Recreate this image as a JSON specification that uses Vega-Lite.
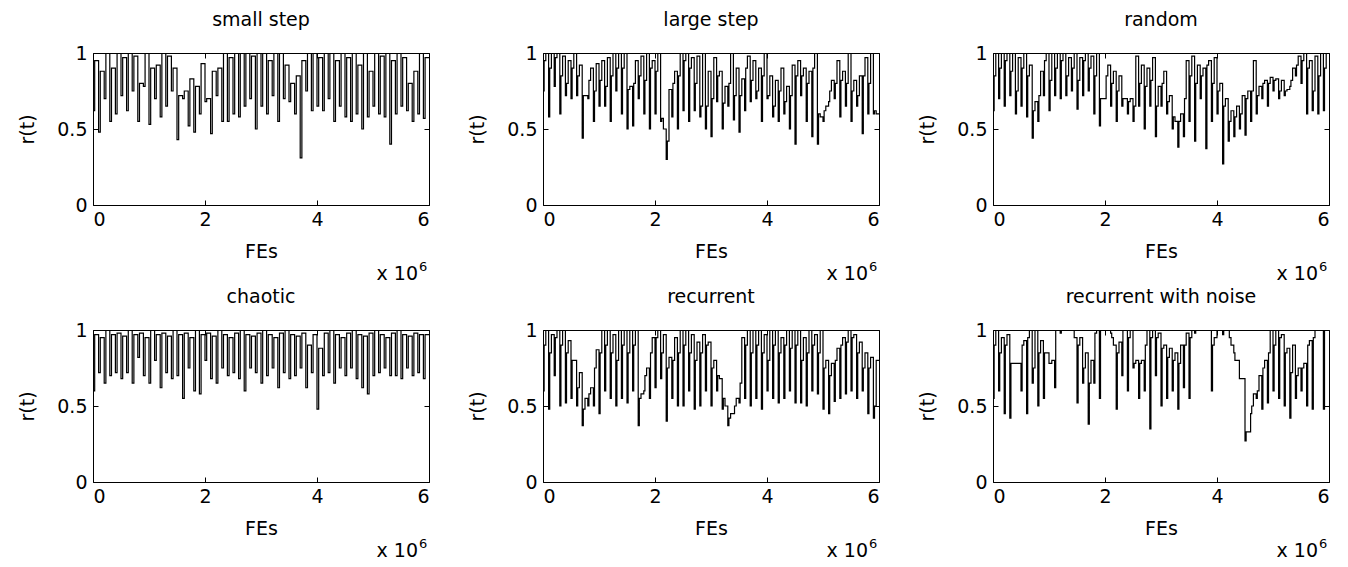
{
"$schema": "https://vega.github.io/schema/vega-lite/v6.json",
"background": "white",
"padding": {"left": 18, "top": 10, "right": 10, "bottom": 0},
"config": {
  "font": "DejaVu Sans",
  "view": {"stroke": "black", "strokeWidth": 1},
  "title": {"font": "DejaVu Sans", "fontSize": 19, "fontWeight": "normal", "color": "black", "offset": 14},
  "axis": {"grid": false, "domain": false, "tickColor": "black", "tickSize": -5, "labelFont": "DejaVu Sans", "labelFontSize": 19, "labelColor": "black", "titleFont": "DejaVu Sans", "titleFontSize": 19, "titleFontWeight": "normal", "titleColor": "black"}
},
"datasets": {
"s1": [{"x":0,"y":0.62},{"x":0.03,"y":0.95},{"x":0.1,"y":0.48},{"x":0.13,"y":0.88},{"x":0.2,"y":0.7},{"x":0.23,"y":1},{"x":0.3,"y":0.55},{"x":0.33,"y":0.9},{"x":0.4,"y":0.6},{"x":0.43,"y":1},{"x":0.5,"y":0.72},{"x":0.53,"y":0.97},{"x":0.6,"y":0.62},{"x":0.63,"y":1},{"x":0.7,"y":0.75},{"x":0.73,"y":0.98},{"x":0.8,"y":0.55},{"x":0.83,"y":0.8},{"x":0.9,"y":0.78},{"x":0.93,"y":1},{"x":1.0,"y":0.53},{"x":1.03,"y":0.9},{"x":1.1,"y":0.7},{"x":1.13,"y":0.92},{"x":1.2,"y":0.58},{"x":1.23,"y":1},{"x":1.3,"y":0.65},{"x":1.33,"y":0.98},{"x":1.4,"y":0.75},{"x":1.43,"y":0.9},{"x":1.5,"y":0.43},{"x":1.53,"y":0.72},{"x":1.6,"y":0.7},{"x":1.63,"y":0.75},{"x":1.7,"y":0.52},{"x":1.73,"y":0.83},{"x":1.8,"y":0.48},{"x":1.83,"y":0.78},{"x":1.9,"y":0.6},{"x":1.93,"y":0.93},{"x":2.0,"y":0.68},{"x":2.03,"y":0.7},{"x":2.1,"y":0.47},{"x":2.13,"y":0.88},{"x":2.2,"y":0.72},{"x":2.23,"y":0.9},{"x":2.3,"y":0.55},{"x":2.33,"y":1},{"x":2.4,"y":0.55},{"x":2.43,"y":0.97},{"x":2.5,"y":0.6},{"x":2.53,"y":1},{"x":2.6,"y":0.58},{"x":2.63,"y":1},{"x":2.7,"y":0.65},{"x":2.73,"y":1},{"x":2.8,"y":0.7},{"x":2.83,"y":0.98},{"x":2.9,"y":0.5},{"x":2.93,"y":1},{"x":3.0,"y":0.65},{"x":3.03,"y":1},{"x":3.1,"y":0.6},{"x":3.13,"y":0.95},{"x":3.2,"y":0.72},{"x":3.23,"y":1},{"x":3.3,"y":0.55},{"x":3.33,"y":1},{"x":3.4,"y":0.7},{"x":3.43,"y":0.92},{"x":3.5,"y":0.68},{"x":3.53,"y":0.8},{"x":3.6,"y":0.6},{"x":3.63,"y":0.85},{"x":3.7,"y":0.31},{"x":3.73,"y":0.95},{"x":3.8,"y":0.75},{"x":3.83,"y":1},{"x":3.9,"y":0.62},{"x":3.93,"y":1},{"x":4.0,"y":0.65},{"x":4.03,"y":0.97},{"x":4.1,"y":0.62},{"x":4.13,"y":1},{"x":4.2,"y":0.7},{"x":4.23,"y":1},{"x":4.3,"y":0.55},{"x":4.33,"y":0.95},{"x":4.4,"y":0.65},{"x":4.43,"y":1},{"x":4.5,"y":0.58},{"x":4.53,"y":0.97},{"x":4.6,"y":0.55},{"x":4.63,"y":1},{"x":4.7,"y":0.6},{"x":4.73,"y":0.92},{"x":4.8,"y":0.5},{"x":4.83,"y":1},{"x":4.9,"y":0.58},{"x":4.93,"y":0.88},{"x":5.0,"y":0.65},{"x":5.03,"y":1},{"x":5.1,"y":0.6},{"x":5.13,"y":0.98},{"x":5.2,"y":0.58},{"x":5.23,"y":1},{"x":5.3,"y":0.4},{"x":5.33,"y":0.95},{"x":5.4,"y":0.6},{"x":5.43,"y":1},{"x":5.5,"y":0.65},{"x":5.53,"y":0.97},{"x":5.6,"y":0.62},{"x":5.63,"y":0.8},{"x":5.7,"y":0.55},{"x":5.73,"y":0.88},{"x":5.8,"y":0.6},{"x":5.83,"y":1},{"x":5.9,"y":0.57},{"x":5.93,"y":0.97},{"x":6,"y":0.97}],
"s2": [{"x":0,"y":0.75},{"x":0.02,"y":0.95},{"x":0.05,"y":1},{"x":0.1,"y":0.58},{"x":0.12,"y":0.9},{"x":0.15,"y":1},{"x":0.2,"y":0.78},{"x":0.22,"y":0.97},{"x":0.25,"y":1},{"x":0.3,"y":0.6},{"x":0.32,"y":0.85},{"x":0.35,"y":0.98},{"x":0.4,"y":0.72},{"x":0.42,"y":0.8},{"x":0.45,"y":0.95},{"x":0.5,"y":0.7},{"x":0.52,"y":0.9},{"x":0.55,"y":1},{"x":0.6,"y":0.72},{"x":0.62,"y":0.85},{"x":0.65,"y":0.92},{"x":0.7,"y":0.44},{"x":0.72,"y":0.72},{"x":0.75,"y":0.72},{"x":0.8,"y":0.7},{"x":0.82,"y":0.82},{"x":0.85,"y":0.9},{"x":0.9,"y":0.55},{"x":0.92,"y":0.75},{"x":0.95,"y":0.93},{"x":1.0,"y":0.65},{"x":1.02,"y":0.82},{"x":1.05,"y":0.95},{"x":1.1,"y":0.65},{"x":1.12,"y":0.78},{"x":1.15,"y":0.97},{"x":1.2,"y":0.55},{"x":1.22,"y":0.85},{"x":1.25,"y":1},{"x":1.3,"y":0.75},{"x":1.32,"y":0.9},{"x":1.35,"y":1},{"x":1.4,"y":0.6},{"x":1.42,"y":0.9},{"x":1.45,"y":1},{"x":1.5,"y":0.5},{"x":1.52,"y":0.76},{"x":1.55,"y":0.78},{"x":1.6,"y":0.52},{"x":1.62,"y":0.8},{"x":1.65,"y":0.95},{"x":1.7,"y":0.7},{"x":1.72,"y":0.85},{"x":1.75,"y":0.98},{"x":1.8,"y":0.6},{"x":1.82,"y":0.82},{"x":1.85,"y":1},{"x":1.9,"y":0.5},{"x":1.92,"y":0.9},{"x":1.95,"y":0.95},{"x":2.0,"y":0.6},{"x":2.02,"y":0.88},{"x":2.05,"y":1},{"x":2.1,"y":0.55},{"x":2.12,"y":0.57},{"x":2.15,"y":0.5},{"x":2.2,"y":0.3},{"x":2.22,"y":0.42},{"x":2.25,"y":0.76},{"x":2.3,"y":0.58},{"x":2.32,"y":0.8},{"x":2.35,"y":0.88},{"x":2.4,"y":0.5},{"x":2.42,"y":0.85},{"x":2.45,"y":1},{"x":2.5,"y":0.62},{"x":2.52,"y":0.95},{"x":2.55,"y":1},{"x":2.6,"y":0.55},{"x":2.62,"y":0.9},{"x":2.65,"y":0.97},{"x":2.7,"y":0.62},{"x":2.72,"y":0.8},{"x":2.75,"y":0.98},{"x":2.8,"y":0.58},{"x":2.82,"y":0.65},{"x":2.85,"y":1},{"x":2.9,"y":0.5},{"x":2.92,"y":0.65},{"x":2.95,"y":0.88},{"x":3.0,"y":0.45},{"x":3.02,"y":0.7},{"x":3.05,"y":0.97},{"x":3.1,"y":0.68},{"x":3.12,"y":0.85},{"x":3.15,"y":0.88},{"x":3.2,"y":0.5},{"x":3.22,"y":0.67},{"x":3.25,"y":0.78},{"x":3.3,"y":0.65},{"x":3.32,"y":0.8},{"x":3.35,"y":1},{"x":3.4,"y":0.56},{"x":3.42,"y":0.72},{"x":3.45,"y":0.9},{"x":3.5,"y":0.48},{"x":3.52,"y":0.72},{"x":3.55,"y":0.83},{"x":3.6,"y":0.62},{"x":3.62,"y":0.9},{"x":3.65,"y":0.98},{"x":3.7,"y":0.68},{"x":3.72,"y":0.82},{"x":3.75,"y":0.95},{"x":3.8,"y":0.7},{"x":3.82,"y":0.75},{"x":3.85,"y":0.9},{"x":3.9,"y":0.55},{"x":3.92,"y":0.85},{"x":3.95,"y":1},{"x":4.0,"y":0.7},{"x":4.02,"y":0.72},{"x":4.05,"y":0.85},{"x":4.1,"y":0.58},{"x":4.12,"y":0.65},{"x":4.15,"y":0.82},{"x":4.2,"y":0.55},{"x":4.22,"y":0.75},{"x":4.25,"y":0.9},{"x":4.3,"y":0.6},{"x":4.32,"y":0.68},{"x":4.35,"y":0.78},{"x":4.4,"y":0.5},{"x":4.42,"y":0.72},{"x":4.45,"y":0.92},{"x":4.5,"y":0.4},{"x":4.52,"y":0.85},{"x":4.55,"y":0.95},{"x":4.6,"y":0.72},{"x":4.62,"y":0.85},{"x":4.65,"y":0.9},{"x":4.7,"y":0.55},{"x":4.72,"y":0.8},{"x":4.75,"y":0.88},{"x":4.8,"y":0.45},{"x":4.82,"y":0.9},{"x":4.85,"y":1},{"x":4.9,"y":0.4},{"x":4.92,"y":0.6},{"x":4.95,"y":0.58},{"x":5.0,"y":0.55},{"x":5.02,"y":0.62},{"x":5.05,"y":0.65},{"x":5.1,"y":0.68},{"x":5.12,"y":0.75},{"x":5.15,"y":0.82},{"x":5.2,"y":0.7},{"x":5.22,"y":0.8},{"x":5.25,"y":0.95},{"x":5.3,"y":0.58},{"x":5.32,"y":0.82},{"x":5.35,"y":0.88},{"x":5.4,"y":0.65},{"x":5.42,"y":0.8},{"x":5.45,"y":1},{"x":5.5,"y":0.55},{"x":5.52,"y":0.75},{"x":5.55,"y":0.82},{"x":5.6,"y":0.65},{"x":5.62,"y":0.72},{"x":5.65,"y":0.85},{"x":5.7,"y":0.47},{"x":5.72,"y":0.85},{"x":5.75,"y":0.97},{"x":5.8,"y":0.6},{"x":5.82,"y":0.8},{"x":5.85,"y":1},{"x":5.9,"y":0.6},{"x":5.92,"y":0.62},{"x":5.95,"y":0.6},{"x":6,"y":0.6}],
"s3": [{"x":0,"y":0.62},{"x":0.02,"y":0.85},{"x":0.05,"y":1},{"x":0.1,"y":0.7},{"x":0.12,"y":0.9},{"x":0.15,"y":1},{"x":0.2,"y":0.65},{"x":0.22,"y":0.95},{"x":0.25,"y":1},{"x":0.3,"y":0.72},{"x":0.32,"y":0.88},{"x":0.35,"y":1},{"x":0.4,"y":0.6},{"x":0.42,"y":0.75},{"x":0.45,"y":0.97},{"x":0.5,"y":0.65},{"x":0.52,"y":0.9},{"x":0.55,"y":1},{"x":0.6,"y":0.58},{"x":0.62,"y":0.85},{"x":0.65,"y":0.92},{"x":0.7,"y":0.44},{"x":0.72,"y":0.62},{"x":0.75,"y":0.68},{"x":0.8,"y":0.55},{"x":0.82,"y":0.72},{"x":0.85,"y":0.88},{"x":0.9,"y":0.72},{"x":0.92,"y":0.95},{"x":0.95,"y":1},{"x":1.0,"y":0.62},{"x":1.02,"y":0.82},{"x":1.05,"y":1},{"x":1.1,"y":0.72},{"x":1.12,"y":0.9},{"x":1.15,"y":1},{"x":1.2,"y":0.7},{"x":1.22,"y":0.95},{"x":1.25,"y":1},{"x":1.3,"y":0.72},{"x":1.32,"y":0.85},{"x":1.35,"y":0.97},{"x":1.4,"y":0.75},{"x":1.42,"y":0.9},{"x":1.45,"y":1},{"x":1.5,"y":0.63},{"x":1.52,"y":0.82},{"x":1.55,"y":0.97},{"x":1.6,"y":0.72},{"x":1.62,"y":0.95},{"x":1.65,"y":1},{"x":1.7,"y":0.75},{"x":1.72,"y":0.9},{"x":1.75,"y":0.98},{"x":1.8,"y":0.6},{"x":1.82,"y":0.85},{"x":1.85,"y":1},{"x":1.9,"y":0.52},{"x":1.92,"y":0.7},{"x":1.95,"y":0.7},{"x":2.0,"y":0.7},{"x":2.02,"y":0.85},{"x":2.05,"y":0.92},{"x":2.1,"y":0.65},{"x":2.12,"y":0.8},{"x":2.15,"y":0.88},{"x":2.2,"y":0.55},{"x":2.22,"y":0.75},{"x":2.25,"y":0.85},{"x":2.3,"y":0.65},{"x":2.32,"y":0.7},{"x":2.35,"y":0.7},{"x":2.4,"y":0.6},{"x":2.42,"y":0.68},{"x":2.45,"y":0.7},{"x":2.5,"y":0.55},{"x":2.52,"y":0.65},{"x":2.55,"y":0.98},{"x":2.6,"y":0.65},{"x":2.62,"y":0.8},{"x":2.65,"y":0.92},{"x":2.7,"y":0.5},{"x":2.72,"y":0.78},{"x":2.75,"y":0.9},{"x":2.8,"y":0.65},{"x":2.82,"y":0.82},{"x":2.85,"y":0.97},{"x":2.9,"y":0.45},{"x":2.92,"y":0.65},{"x":2.95,"y":0.78},{"x":3.0,"y":0.65},{"x":3.02,"y":0.8},{"x":3.05,"y":0.88},{"x":3.1,"y":0.6},{"x":3.12,"y":0.68},{"x":3.15,"y":0.72},{"x":3.2,"y":0.5},{"x":3.22,"y":0.58},{"x":3.25,"y":0.55},{"x":3.3,"y":0.38},{"x":3.32,"y":0.55},{"x":3.35,"y":0.6},{"x":3.4,"y":0.45},{"x":3.42,"y":0.7},{"x":3.45,"y":0.95},{"x":3.5,"y":0.55},{"x":3.52,"y":0.85},{"x":3.55,"y":0.98},{"x":3.6,"y":0.42},{"x":3.62,"y":0.8},{"x":3.65,"y":0.92},{"x":3.7,"y":0.7},{"x":3.72,"y":0.85},{"x":3.75,"y":0.9},{"x":3.8,"y":0.37},{"x":3.82,"y":0.92},{"x":3.85,"y":0.95},{"x":3.9,"y":0.55},{"x":3.92,"y":0.8},{"x":3.95,"y":0.97},{"x":4.0,"y":0.6},{"x":4.02,"y":0.75},{"x":4.05,"y":0.8},{"x":4.1,"y":0.27},{"x":4.12,"y":0.65},{"x":4.15,"y":0.7},{"x":4.2,"y":0.42},{"x":4.22,"y":0.55},{"x":4.25,"y":0.62},{"x":4.3,"y":0.45},{"x":4.32,"y":0.58},{"x":4.35,"y":0.65},{"x":4.4,"y":0.5},{"x":4.42,"y":0.6},{"x":4.45,"y":0.72},{"x":4.5,"y":0.46},{"x":4.52,"y":0.7},{"x":4.55,"y":0.75},{"x":4.6,"y":0.55},{"x":4.62,"y":0.75},{"x":4.65,"y":0.95},{"x":4.7,"y":0.6},{"x":4.72,"y":0.72},{"x":4.75,"y":0.78},{"x":4.8,"y":0.7},{"x":4.82,"y":0.8},{"x":4.85,"y":0.82},{"x":4.9,"y":0.65},{"x":4.92,"y":0.8},{"x":4.95,"y":0.84},{"x":5.0,"y":0.75},{"x":5.02,"y":0.82},{"x":5.05,"y":0.83},{"x":5.1,"y":0.7},{"x":5.12,"y":0.75},{"x":5.15,"y":0.82},{"x":5.2,"y":0.72},{"x":5.22,"y":0.75},{"x":5.25,"y":0.76},{"x":5.3,"y":0.78},{"x":5.32,"y":0.82},{"x":5.35,"y":0.9},{"x":5.4,"y":0.85},{"x":5.42,"y":0.92},{"x":5.45,"y":0.98},{"x":5.5,"y":0.8},{"x":5.52,"y":0.95},{"x":5.55,"y":1},{"x":5.6,"y":0.6},{"x":5.62,"y":0.9},{"x":5.65,"y":0.95},{"x":5.7,"y":0.62},{"x":5.72,"y":0.75},{"x":5.75,"y":0.98},{"x":5.8,"y":0.6},{"x":5.82,"y":0.85},{"x":5.85,"y":1},{"x":5.9,"y":0.62},{"x":5.92,"y":0.9},{"x":5.95,"y":1},{"x":6,"y":1}],
"s4": [{"x":0,"y":0.6},{"x":0.03,"y":0.97},{"x":0.1,"y":0.72},{"x":0.13,"y":0.95},{"x":0.2,"y":0.65},{"x":0.23,"y":1},{"x":0.3,"y":0.7},{"x":0.33,"y":0.97},{"x":0.4,"y":0.72},{"x":0.43,"y":0.98},{"x":0.5,"y":0.68},{"x":0.53,"y":0.96},{"x":0.6,"y":0.72},{"x":0.63,"y":1},{"x":0.7,"y":0.65},{"x":0.73,"y":0.97},{"x":0.8,"y":0.82},{"x":0.83,"y":0.98},{"x":0.9,"y":0.7},{"x":0.93,"y":0.95},{"x":1.0,"y":0.65},{"x":1.03,"y":1},{"x":1.1,"y":0.8},{"x":1.13,"y":0.97},{"x":1.2,"y":0.62},{"x":1.23,"y":0.98},{"x":1.3,"y":0.72},{"x":1.33,"y":0.96},{"x":1.4,"y":0.68},{"x":1.43,"y":1},{"x":1.5,"y":0.7},{"x":1.53,"y":0.97},{"x":1.6,"y":0.55},{"x":1.63,"y":0.98},{"x":1.7,"y":0.75},{"x":1.73,"y":0.95},{"x":1.8,"y":0.6},{"x":1.83,"y":1},{"x":1.9,"y":0.58},{"x":1.93,"y":0.97},{"x":2.0,"y":0.8},{"x":2.03,"y":0.98},{"x":2.1,"y":0.68},{"x":2.13,"y":0.96},{"x":2.2,"y":0.65},{"x":2.23,"y":1},{"x":2.3,"y":0.75},{"x":2.33,"y":0.97},{"x":2.4,"y":0.7},{"x":2.43,"y":0.95},{"x":2.5,"y":0.72},{"x":2.53,"y":0.98},{"x":2.6,"y":0.68},{"x":2.63,"y":1},{"x":2.7,"y":0.6},{"x":2.73,"y":0.97},{"x":2.8,"y":0.75},{"x":2.83,"y":0.96},{"x":2.9,"y":0.72},{"x":2.93,"y":0.98},{"x":3.0,"y":0.65},{"x":3.03,"y":1},{"x":3.1,"y":0.7},{"x":3.13,"y":0.97},{"x":3.2,"y":0.75},{"x":3.23,"y":0.95},{"x":3.3,"y":0.62},{"x":3.33,"y":0.98},{"x":3.4,"y":0.72},{"x":3.43,"y":1},{"x":3.5,"y":0.68},{"x":3.53,"y":0.97},{"x":3.6,"y":0.7},{"x":3.63,"y":0.96},{"x":3.7,"y":0.75},{"x":3.73,"y":0.98},{"x":3.8,"y":0.62},{"x":3.83,"y":0.9},{"x":3.9,"y":0.72},{"x":3.93,"y":0.97},{"x":4.0,"y":0.48},{"x":4.03,"y":0.88},{"x":4.1,"y":0.7},{"x":4.13,"y":0.98},{"x":4.2,"y":0.72},{"x":4.23,"y":1},{"x":4.3,"y":0.65},{"x":4.33,"y":0.97},{"x":4.4,"y":0.75},{"x":4.43,"y":0.95},{"x":4.5,"y":0.7},{"x":4.53,"y":0.98},{"x":4.6,"y":0.75},{"x":4.63,"y":1},{"x":4.7,"y":0.68},{"x":4.73,"y":0.97},{"x":4.8,"y":0.62},{"x":4.83,"y":0.96},{"x":4.9,"y":0.58},{"x":4.93,"y":0.98},{"x":5.0,"y":0.7},{"x":5.03,"y":1},{"x":5.1,"y":0.72},{"x":5.13,"y":0.97},{"x":5.2,"y":0.75},{"x":5.23,"y":0.95},{"x":5.3,"y":0.7},{"x":5.33,"y":0.98},{"x":5.4,"y":0.7},{"x":5.43,"y":1},{"x":5.5,"y":0.68},{"x":5.53,"y":0.97},{"x":5.6,"y":0.75},{"x":5.63,"y":0.96},{"x":5.7,"y":0.7},{"x":5.73,"y":0.98},{"x":5.8,"y":0.72},{"x":5.83,"y":0.97},{"x":5.9,"y":0.68},{"x":5.93,"y":0.97},{"x":6,"y":0.97}],
"s5": [{"x":0,"y":0.6},{"x":0.02,"y":0.9},{"x":0.05,"y":1},{"x":0.1,"y":0.48},{"x":0.12,"y":0.85},{"x":0.15,"y":0.97},{"x":0.2,"y":0.7},{"x":0.22,"y":0.95},{"x":0.25,"y":1},{"x":0.3,"y":0.5},{"x":0.32,"y":0.9},{"x":0.35,"y":1},{"x":0.4,"y":0.52},{"x":0.42,"y":0.85},{"x":0.45,"y":0.93},{"x":0.5,"y":0.55},{"x":0.52,"y":0.8},{"x":0.55,"y":0.8},{"x":0.6,"y":0.5},{"x":0.62,"y":0.62},{"x":0.65,"y":0.72},{"x":0.7,"y":0.37},{"x":0.72,"y":0.48},{"x":0.75,"y":0.55},{"x":0.8,"y":0.5},{"x":0.82,"y":0.58},{"x":0.85,"y":0.62},{"x":0.9,"y":0.5},{"x":0.92,"y":0.75},{"x":0.95,"y":0.87},{"x":1.0,"y":0.45},{"x":1.02,"y":0.85},{"x":1.05,"y":1},{"x":1.1,"y":0.6},{"x":1.12,"y":0.9},{"x":1.15,"y":1},{"x":1.2,"y":0.55},{"x":1.22,"y":0.85},{"x":1.25,"y":0.97},{"x":1.3,"y":0.5},{"x":1.32,"y":0.8},{"x":1.35,"y":1},{"x":1.4,"y":0.55},{"x":1.42,"y":0.9},{"x":1.45,"y":1},{"x":1.5,"y":0.52},{"x":1.52,"y":0.85},{"x":1.55,"y":1},{"x":1.6,"y":0.6},{"x":1.62,"y":0.9},{"x":1.65,"y":1},{"x":1.7,"y":0.37},{"x":1.72,"y":0.55},{"x":1.75,"y":0.58},{"x":1.8,"y":0.6},{"x":1.82,"y":0.7},{"x":1.85,"y":0.75},{"x":1.9,"y":0.55},{"x":1.92,"y":0.85},{"x":1.95,"y":0.95},{"x":2.0,"y":0.62},{"x":2.02,"y":0.95},{"x":2.05,"y":1},{"x":2.1,"y":0.68},{"x":2.12,"y":0.85},{"x":2.15,"y":0.97},{"x":2.2,"y":0.4},{"x":2.22,"y":0.75},{"x":2.25,"y":0.82},{"x":2.3,"y":0.55},{"x":2.32,"y":0.8},{"x":2.35,"y":0.95},{"x":2.4,"y":0.5},{"x":2.42,"y":0.85},{"x":2.45,"y":1},{"x":2.5,"y":0.5},{"x":2.52,"y":0.9},{"x":2.55,"y":1},{"x":2.6,"y":0.6},{"x":2.62,"y":0.85},{"x":2.65,"y":0.97},{"x":2.7,"y":0.48},{"x":2.72,"y":0.8},{"x":2.75,"y":0.92},{"x":2.8,"y":0.5},{"x":2.82,"y":0.85},{"x":2.85,"y":0.97},{"x":2.9,"y":0.6},{"x":2.92,"y":0.9},{"x":2.95,"y":0.92},{"x":3.0,"y":0.5},{"x":3.02,"y":0.75},{"x":3.05,"y":0.8},{"x":3.1,"y":0.6},{"x":3.12,"y":0.7},{"x":3.15,"y":0.68},{"x":3.2,"y":0.48},{"x":3.22,"y":0.55},{"x":3.25,"y":0.5},{"x":3.3,"y":0.37},{"x":3.32,"y":0.42},{"x":3.35,"y":0.45},{"x":3.4,"y":0.45},{"x":3.42,"y":0.5},{"x":3.45,"y":0.55},{"x":3.5,"y":0.52},{"x":3.52,"y":0.65},{"x":3.55,"y":0.95},{"x":3.6,"y":0.55},{"x":3.62,"y":0.9},{"x":3.65,"y":1},{"x":3.7,"y":0.5},{"x":3.72,"y":0.85},{"x":3.75,"y":1},{"x":3.8,"y":0.55},{"x":3.82,"y":0.9},{"x":3.85,"y":1},{"x":3.9,"y":0.48},{"x":3.92,"y":0.85},{"x":3.95,"y":0.97},{"x":4.0,"y":0.6},{"x":4.02,"y":0.8},{"x":4.05,"y":1},{"x":4.1,"y":0.55},{"x":4.12,"y":0.9},{"x":4.15,"y":1},{"x":4.2,"y":0.52},{"x":4.22,"y":0.85},{"x":4.25,"y":0.95},{"x":4.3,"y":0.55},{"x":4.32,"y":0.9},{"x":4.35,"y":1},{"x":4.4,"y":0.6},{"x":4.42,"y":0.88},{"x":4.45,"y":1},{"x":4.5,"y":0.52},{"x":4.52,"y":0.9},{"x":4.55,"y":1},{"x":4.6,"y":0.52},{"x":4.62,"y":0.8},{"x":4.65,"y":0.95},{"x":4.7,"y":0.5},{"x":4.72,"y":0.85},{"x":4.75,"y":1},{"x":4.8,"y":0.6},{"x":4.82,"y":0.9},{"x":4.85,"y":0.97},{"x":4.9,"y":0.58},{"x":4.92,"y":0.85},{"x":4.95,"y":1},{"x":5.0,"y":0.48},{"x":5.02,"y":0.75},{"x":5.05,"y":0.8},{"x":5.1,"y":0.45},{"x":5.12,"y":0.7},{"x":5.15,"y":0.78},{"x":5.2,"y":0.53},{"x":5.22,"y":0.8},{"x":5.25,"y":0.88},{"x":5.3,"y":0.55},{"x":5.32,"y":0.9},{"x":5.35,"y":0.95},{"x":5.4,"y":0.58},{"x":5.42,"y":0.92},{"x":5.45,"y":1},{"x":5.5,"y":0.6},{"x":5.52,"y":0.95},{"x":5.55,"y":0.97},{"x":5.6,"y":0.55},{"x":5.62,"y":0.85},{"x":5.65,"y":0.92},{"x":5.7,"y":0.6},{"x":5.72,"y":0.75},{"x":5.75,"y":0.85},{"x":5.8,"y":0.45},{"x":5.82,"y":0.75},{"x":5.85,"y":0.82},{"x":5.9,"y":0.42},{"x":5.92,"y":0.5},{"x":5.95,"y":0.8},{"x":6,"y":0.8}],
"s6": [{"x":0,"y":0.55},{"x":0.02,"y":0.9},{"x":0.05,"y":1},{"x":0.1,"y":0.6},{"x":0.12,"y":0.85},{"x":0.15,"y":0.95},{"x":0.2,"y":0.45},{"x":0.22,"y":0.9},{"x":0.25,"y":0.97},{"x":0.3,"y":0.42},{"x":0.32,"y":0.78},{"x":0.35,"y":0.78},{"x":0.4,"y":0.78},{"x":0.42,"y":0.78},{"x":0.45,"y":0.78},{"x":0.5,"y":0.6},{"x":0.52,"y":0.9},{"x":0.55,"y":0.93},{"x":0.6,"y":0.45},{"x":0.62,"y":0.95},{"x":0.65,"y":1},{"x":0.7,"y":0.65},{"x":0.72,"y":0.75},{"x":0.75,"y":1},{"x":0.8,"y":0.5},{"x":0.82,"y":0.85},{"x":0.85,"y":0.93},{"x":0.9,"y":0.55},{"x":0.92,"y":0.85},{"x":0.95,"y":0.85},{"x":1.0,"y":0.78},{"x":1.02,"y":0.78},{"x":1.05,"y":0.8},{"x":1.1,"y":0.62},{"x":1.12,"y":1},{"x":1.15,"y":1},{"x":1.2,"y":0.98},{"x":1.22,"y":1},{"x":1.25,"y":1},{"x":1.4,"y":1},{"x":1.42,"y":1},{"x":1.45,"y":0.95},{"x":1.5,"y":0.52},{"x":1.52,"y":0.9},{"x":1.55,"y":0.95},{"x":1.6,"y":0.65},{"x":1.62,"y":0.75},{"x":1.65,"y":0.85},{"x":1.7,"y":0.38},{"x":1.72,"y":0.65},{"x":1.75,"y":0.8},{"x":1.8,"y":0.65},{"x":1.82,"y":0.98},{"x":1.85,"y":1},{"x":1.9,"y":0.55},{"x":1.92,"y":1},{"x":1.95,"y":1},{"x":2.1,"y":0.98},{"x":2.12,"y":0.95},{"x":2.15,"y":0.9},{"x":2.2,"y":0.48},{"x":2.22,"y":0.85},{"x":2.25,"y":0.92},{"x":2.3,"y":0.7},{"x":2.32,"y":1},{"x":2.35,"y":1},{"x":2.4,"y":0.6},{"x":2.42,"y":0.95},{"x":2.45,"y":1},{"x":2.5,"y":0.75},{"x":2.52,"y":0.78},{"x":2.55,"y":0.8},{"x":2.6,"y":0.55},{"x":2.62,"y":0.78},{"x":2.65,"y":0.8},{"x":2.7,"y":0.6},{"x":2.72,"y":0.9},{"x":2.75,"y":1},{"x":2.8,"y":0.35},{"x":2.82,"y":0.95},{"x":2.85,"y":1},{"x":2.9,"y":0.7},{"x":2.92,"y":0.95},{"x":2.95,"y":0.98},{"x":3.0,"y":0.5},{"x":3.02,"y":0.88},{"x":3.05,"y":0.9},{"x":3.1,"y":0.55},{"x":3.12,"y":0.82},{"x":3.15,"y":0.88},{"x":3.2,"y":0.6},{"x":3.22,"y":0.8},{"x":3.25,"y":0.85},{"x":3.3,"y":0.48},{"x":3.32,"y":0.78},{"x":3.35,"y":0.9},{"x":3.4,"y":0.62},{"x":3.42,"y":0.9},{"x":3.45,"y":0.98},{"x":3.5,"y":0.55},{"x":3.52,"y":0.95},{"x":3.55,"y":1},{"x":3.6,"y":0.98},{"x":3.62,"y":1},{"x":3.65,"y":1},{"x":3.9,"y":0.6},{"x":3.92,"y":0.9},{"x":3.95,"y":0.95},{"x":4.0,"y":1},{"x":4.02,"y":1},{"x":4.1,"y":0.97},{"x":4.12,"y":1},{"x":4.2,"y":1},{"x":4.22,"y":0.95},{"x":4.25,"y":0.9},{"x":4.3,"y":0.85},{"x":4.32,"y":0.8},{"x":4.35,"y":0.8},{"x":4.4,"y":0.68},{"x":4.42,"y":0.68},{"x":4.45,"y":0.68},{"x":4.5,"y":0.27},{"x":4.52,"y":0.33},{"x":4.55,"y":0.33},{"x":4.6,"y":0.45},{"x":4.62,"y":0.5},{"x":4.65,"y":0.58},{"x":4.7,"y":0.55},{"x":4.72,"y":0.6},{"x":4.75,"y":0.7},{"x":4.8,"y":0.48},{"x":4.82,"y":0.75},{"x":4.85,"y":0.8},{"x":4.9,"y":0.52},{"x":4.92,"y":0.85},{"x":4.95,"y":1},{"x":5.0,"y":0.6},{"x":5.02,"y":0.9},{"x":5.05,"y":1},{"x":5.1,"y":0.55},{"x":5.12,"y":0.95},{"x":5.15,"y":0.97},{"x":5.2,"y":0.5},{"x":5.22,"y":0.85},{"x":5.25,"y":0.88},{"x":5.3,"y":0.42},{"x":5.32,"y":0.72},{"x":5.35,"y":0.9},{"x":5.4,"y":0.55},{"x":5.42,"y":0.7},{"x":5.45,"y":0.75},{"x":5.5,"y":0.6},{"x":5.52,"y":0.75},{"x":5.55,"y":0.78},{"x":5.6,"y":0.5},{"x":5.62,"y":0.9},{"x":5.65,"y":0.93},{"x":5.7,"y":0.48},{"x":5.72,"y":0.95},{"x":5.75,"y":1},{"x":5.9,"y":0.48},{"x":5.92,"y":1},{"x":5.95,"y":1},{"x":6,"y":1}]
},
"columns": 3,
"spacing": {"column": 114, "row": 125},
"bounds": "flush",
"concat": [
{"title": "small step", "width": 336, "height": 152, "layer": [
 {"data": {"name": "s1"}, "mark": {"type": "line", "interpolate": "step-after", "color": "black", "strokeWidth": 1.2, "clip": true},
  "encoding": {"x": {"field": "x", "type": "quantitative", "scale": {"domain": [0, 6], "nice": false}, "axis": {"values": [0, 2, 4, 6], "title": "FEs", "labelPadding": 10, "titlePadding": 13}},
   "y": {"field": "y", "type": "quantitative", "scale": {"domain": [0, 1], "nice": false}, "axis": {"values": [0, 0.5, 1], "format": "~g", "title": "r(t)", "labelPadding": 11, "titlePadding": 19}}}},
 {"data": {"values": [{}]}, "mark": {"type": "text", "text": "x 10", "align": "right", "baseline": "alphabetic", "dx": -11, "dy": 75, "fontSize": 19, "font": "DejaVu Sans"},
  "encoding": {"x": {"datum": 6, "type": "quantitative", "axis": {"orient": "top", "values": [0, 2, 4, 6], "labels": false, "title": null}},
   "y": {"datum": 0, "type": "quantitative", "axis": {"orient": "right", "values": [0, 0.5, 1], "labels": false, "title": null}}}},
 {"data": {"values": [{}]}, "mark": {"type": "text", "text": "6", "align": "left", "baseline": "alphabetic", "dx": -10, "dy": 66, "fontSize": 13, "font": "DejaVu Sans"},
  "encoding": {"x": {"datum": 6, "type": "quantitative", "axis": null}, "y": {"datum": 0, "type": "quantitative", "axis": null}}}
 ], "resolve": {"axis": {"x": "independent", "y": "independent"}}},
{"title": "large step", "width": 336, "height": 152, "layer": [
 {"data": {"name": "s2"}, "mark": {"type": "line", "interpolate": "step-after", "color": "black", "strokeWidth": 1.2, "clip": true},
  "encoding": {"x": {"field": "x", "type": "quantitative", "scale": {"domain": [0, 6], "nice": false}, "axis": {"values": [0, 2, 4, 6], "title": "FEs", "labelPadding": 10, "titlePadding": 13}},
   "y": {"field": "y", "type": "quantitative", "scale": {"domain": [0, 1], "nice": false}, "axis": {"values": [0, 0.5, 1], "format": "~g", "title": "r(t)", "labelPadding": 11, "titlePadding": 19}}}},
 {"data": {"values": [{}]}, "mark": {"type": "text", "text": "x 10", "align": "right", "baseline": "alphabetic", "dx": -11, "dy": 75, "fontSize": 19, "font": "DejaVu Sans"},
  "encoding": {"x": {"datum": 6, "type": "quantitative", "axis": {"orient": "top", "values": [0, 2, 4, 6], "labels": false, "title": null}},
   "y": {"datum": 0, "type": "quantitative", "axis": {"orient": "right", "values": [0, 0.5, 1], "labels": false, "title": null}}}},
 {"data": {"values": [{}]}, "mark": {"type": "text", "text": "6", "align": "left", "baseline": "alphabetic", "dx": -10, "dy": 66, "fontSize": 13, "font": "DejaVu Sans"},
  "encoding": {"x": {"datum": 6, "type": "quantitative", "axis": null}, "y": {"datum": 0, "type": "quantitative", "axis": null}}}
 ], "resolve": {"axis": {"x": "independent", "y": "independent"}}},
{"title": "random", "width": 336, "height": 152, "layer": [
 {"data": {"name": "s3"}, "mark": {"type": "line", "interpolate": "step-after", "color": "black", "strokeWidth": 1.2, "clip": true},
  "encoding": {"x": {"field": "x", "type": "quantitative", "scale": {"domain": [0, 6], "nice": false}, "axis": {"values": [0, 2, 4, 6], "title": "FEs", "labelPadding": 10, "titlePadding": 13}},
   "y": {"field": "y", "type": "quantitative", "scale": {"domain": [0, 1], "nice": false}, "axis": {"values": [0, 0.5, 1], "format": "~g", "title": "r(t)", "labelPadding": 11, "titlePadding": 19}}}},
 {"data": {"values": [{}]}, "mark": {"type": "text", "text": "x 10", "align": "right", "baseline": "alphabetic", "dx": -11, "dy": 75, "fontSize": 19, "font": "DejaVu Sans"},
  "encoding": {"x": {"datum": 6, "type": "quantitative", "axis": {"orient": "top", "values": [0, 2, 4, 6], "labels": false, "title": null}},
   "y": {"datum": 0, "type": "quantitative", "axis": {"orient": "right", "values": [0, 0.5, 1], "labels": false, "title": null}}}},
 {"data": {"values": [{}]}, "mark": {"type": "text", "text": "6", "align": "left", "baseline": "alphabetic", "dx": -10, "dy": 66, "fontSize": 13, "font": "DejaVu Sans"},
  "encoding": {"x": {"datum": 6, "type": "quantitative", "axis": null}, "y": {"datum": 0, "type": "quantitative", "axis": null}}}
 ], "resolve": {"axis": {"x": "independent", "y": "independent"}}},
{"title": "chaotic", "width": 336, "height": 152, "layer": [
 {"data": {"name": "s4"}, "mark": {"type": "line", "interpolate": "step-after", "color": "black", "strokeWidth": 1.2, "clip": true},
  "encoding": {"x": {"field": "x", "type": "quantitative", "scale": {"domain": [0, 6], "nice": false}, "axis": {"values": [0, 2, 4, 6], "title": "FEs", "labelPadding": 10, "titlePadding": 13}},
   "y": {"field": "y", "type": "quantitative", "scale": {"domain": [0, 1], "nice": false}, "axis": {"values": [0, 0.5, 1], "format": "~g", "title": "r(t)", "labelPadding": 11, "titlePadding": 19}}}},
 {"data": {"values": [{}]}, "mark": {"type": "text", "text": "x 10", "align": "right", "baseline": "alphabetic", "dx": -11, "dy": 75, "fontSize": 19, "font": "DejaVu Sans"},
  "encoding": {"x": {"datum": 6, "type": "quantitative", "axis": {"orient": "top", "values": [0, 2, 4, 6], "labels": false, "title": null}},
   "y": {"datum": 0, "type": "quantitative", "axis": {"orient": "right", "values": [0, 0.5, 1], "labels": false, "title": null}}}},
 {"data": {"values": [{}]}, "mark": {"type": "text", "text": "6", "align": "left", "baseline": "alphabetic", "dx": -10, "dy": 66, "fontSize": 13, "font": "DejaVu Sans"},
  "encoding": {"x": {"datum": 6, "type": "quantitative", "axis": null}, "y": {"datum": 0, "type": "quantitative", "axis": null}}}
 ], "resolve": {"axis": {"x": "independent", "y": "independent"}}},
{"title": "recurrent", "width": 336, "height": 152, "layer": [
 {"data": {"name": "s5"}, "mark": {"type": "line", "interpolate": "step-after", "color": "black", "strokeWidth": 1.2, "clip": true},
  "encoding": {"x": {"field": "x", "type": "quantitative", "scale": {"domain": [0, 6], "nice": false}, "axis": {"values": [0, 2, 4, 6], "title": "FEs", "labelPadding": 10, "titlePadding": 13}},
   "y": {"field": "y", "type": "quantitative", "scale": {"domain": [0, 1], "nice": false}, "axis": {"values": [0, 0.5, 1], "format": "~g", "title": "r(t)", "labelPadding": 11, "titlePadding": 19}}}},
 {"data": {"values": [{}]}, "mark": {"type": "text", "text": "x 10", "align": "right", "baseline": "alphabetic", "dx": -11, "dy": 75, "fontSize": 19, "font": "DejaVu Sans"},
  "encoding": {"x": {"datum": 6, "type": "quantitative", "axis": {"orient": "top", "values": [0, 2, 4, 6], "labels": false, "title": null}},
   "y": {"datum": 0, "type": "quantitative", "axis": {"orient": "right", "values": [0, 0.5, 1], "labels": false, "title": null}}}},
 {"data": {"values": [{}]}, "mark": {"type": "text", "text": "6", "align": "left", "baseline": "alphabetic", "dx": -10, "dy": 66, "fontSize": 13, "font": "DejaVu Sans"},
  "encoding": {"x": {"datum": 6, "type": "quantitative", "axis": null}, "y": {"datum": 0, "type": "quantitative", "axis": null}}}
 ], "resolve": {"axis": {"x": "independent", "y": "independent"}}},
{"title": "recurrent with noise", "width": 336, "height": 152, "layer": [
 {"data": {"name": "s6"}, "mark": {"type": "line", "interpolate": "step-after", "color": "black", "strokeWidth": 1.2, "clip": true},
  "encoding": {"x": {"field": "x", "type": "quantitative", "scale": {"domain": [0, 6], "nice": false}, "axis": {"values": [0, 2, 4, 6], "title": "FEs", "labelPadding": 10, "titlePadding": 13}},
   "y": {"field": "y", "type": "quantitative", "scale": {"domain": [0, 1], "nice": false}, "axis": {"values": [0, 0.5, 1], "format": "~g", "title": "r(t)", "labelPadding": 11, "titlePadding": 19}}}},
 {"data": {"values": [{}]}, "mark": {"type": "text", "text": "x 10", "align": "right", "baseline": "alphabetic", "dx": -11, "dy": 75, "fontSize": 19, "font": "DejaVu Sans"},
  "encoding": {"x": {"datum": 6, "type": "quantitative", "axis": {"orient": "top", "values": [0, 2, 4, 6], "labels": false, "title": null}},
   "y": {"datum": 0, "type": "quantitative", "axis": {"orient": "right", "values": [0, 0.5, 1], "labels": false, "title": null}}}},
 {"data": {"values": [{}]}, "mark": {"type": "text", "text": "6", "align": "left", "baseline": "alphabetic", "dx": -10, "dy": 66, "fontSize": 13, "font": "DejaVu Sans"},
  "encoding": {"x": {"datum": 6, "type": "quantitative", "axis": null}, "y": {"datum": 0, "type": "quantitative", "axis": null}}}
 ], "resolve": {"axis": {"x": "independent", "y": "independent"}}}
]
}
